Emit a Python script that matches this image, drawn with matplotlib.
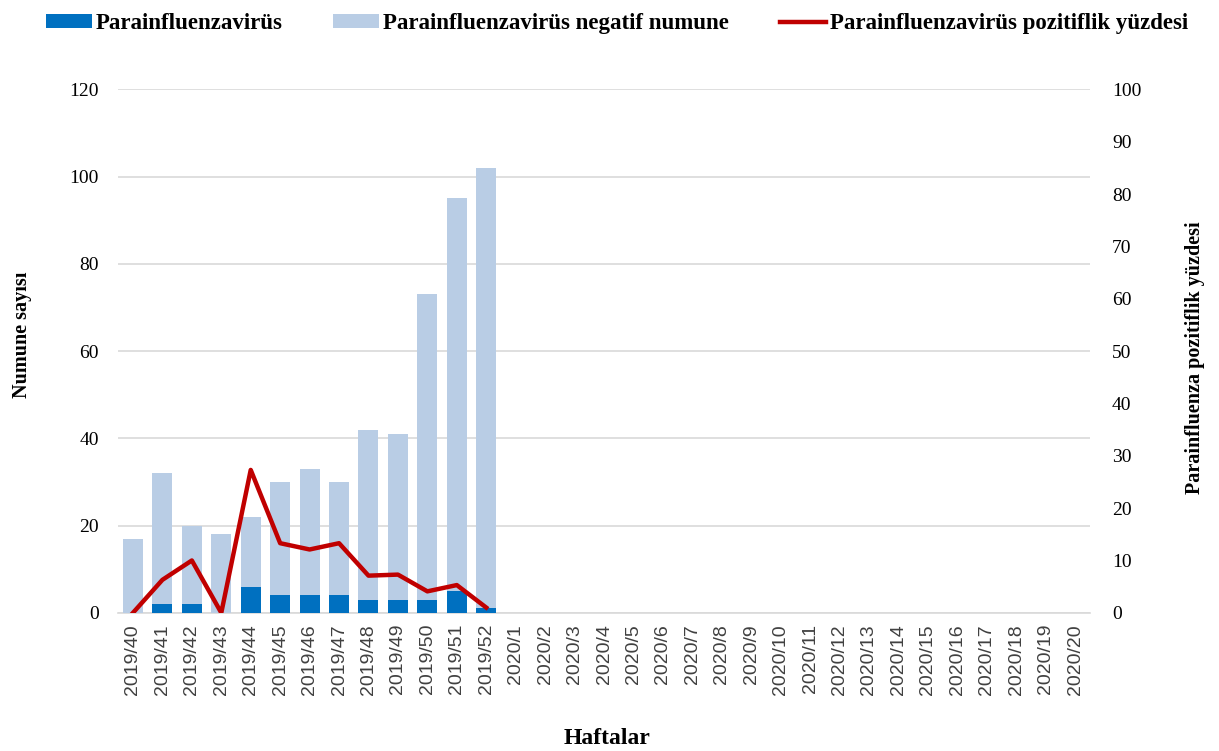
import numpy as np
import matplotlib.pyplot as plt

weeks = [f"2019/{w}" for w in range(40, 53)] + [f"2020/{w}" for w in range(1, 21)]
positive = [0, 2, 2, 0, 6, 4, 4, 4, 3, 3, 3, 5, 1]
negative = [17, 30, 18, 18, 16, 26, 29, 26, 39, 38, 70, 90, 101]
percent = [0, 6.3, 10.0, 0, 27.3, 13.3, 12.1, 13.3, 7.1, 7.3, 4.1, 5.3, 1.0]

DARK = '#0070c0'
LIGHT = '#b9cde5'
RED = '#c00000'

plt.rcParams['font.family'] = ['Liberation Serif', 'DejaVu Serif']

fig = plt.figure(figsize=(12.19, 7.51), dpi=100)
ax = fig.add_axes([0.097, 0.184, 0.797, 0.697])
ax2 = ax.twinx()

x = np.arange(len(weeks))
n = len(positive)
ax.bar(x[:n], positive, width=0.68, color=DARK, label='Parainfluenzavirüs', zorder=3)
ax.bar(x[:n], negative, width=0.68, bottom=positive, color=LIGHT,
       label='Parainfluenzavirüs negatif numune', zorder=3)
ax2.plot(x[:n], percent, color=RED, lw=3.2, label='Parainfluenzavirüs pozitiflik yüzdesi', zorder=4)

ax.set_xlim(-0.5, len(weeks) - 0.5)
ax.set_ylim(0, 120)
ax.set_yticks(np.arange(0, 121, 20))
ax2.set_ylim(0, 100)
ax2.set_yticks(np.arange(0, 101, 10))
ax.grid(axis='y', color='#d9d9d9', lw=1.2, zorder=0)
ax.set_axisbelow(True)

ax.set_xticks(x)
ax.set_xticklabels(weeks, rotation=90, fontsize=13, family='Liberation Sans', color='#404040')
for a in (ax, ax2):
    for s in a.spines.values():
        s.set_visible(False)
    a.tick_params(length=0, labelsize=14)
ax.spines['bottom'].set_visible(True)
ax.spines['bottom'].set_color('#d9d9d9')
ax.spines['bottom'].set_linewidth(1.2)
ax.tick_params(axis='y', pad=14)
ax2.tick_params(axis='y', pad=16)
ax.tick_params(axis='x', pad=8)

fig.text(22 / 1219, 1 - 335 / 751, 'Numune sayısı', rotation=90, ha='center', va='center',
         fontsize=14.5, fontweight='bold')
fig.text(1195 / 1219, 1 - 358 / 751, 'Parainfluenza pozitiflik yüzdesi', rotation=90,
         ha='center', va='center', fontsize=14.5, fontweight='bold')
fig.text(607 / 1219, 1 - 738 / 751, 'Haftalar', ha='center', va='center',
         fontsize=17, fontweight='bold')

h1, l1 = ax.get_legend_handles_labels()
h2, l2 = ax2.get_legend_handles_labels()
fig.legend(h1 + h2, l1 + l2, loc='upper center', bbox_to_anchor=(617 / 1219, 1.01), ncol=3,
           frameon=False, prop={'weight': 'bold', 'size': 16.5}, handlelength=2.0,
           handleheight=0.55, columnspacing=2.2, handletextpad=0.18)

fig.savefig('out.png', dpi=100)
